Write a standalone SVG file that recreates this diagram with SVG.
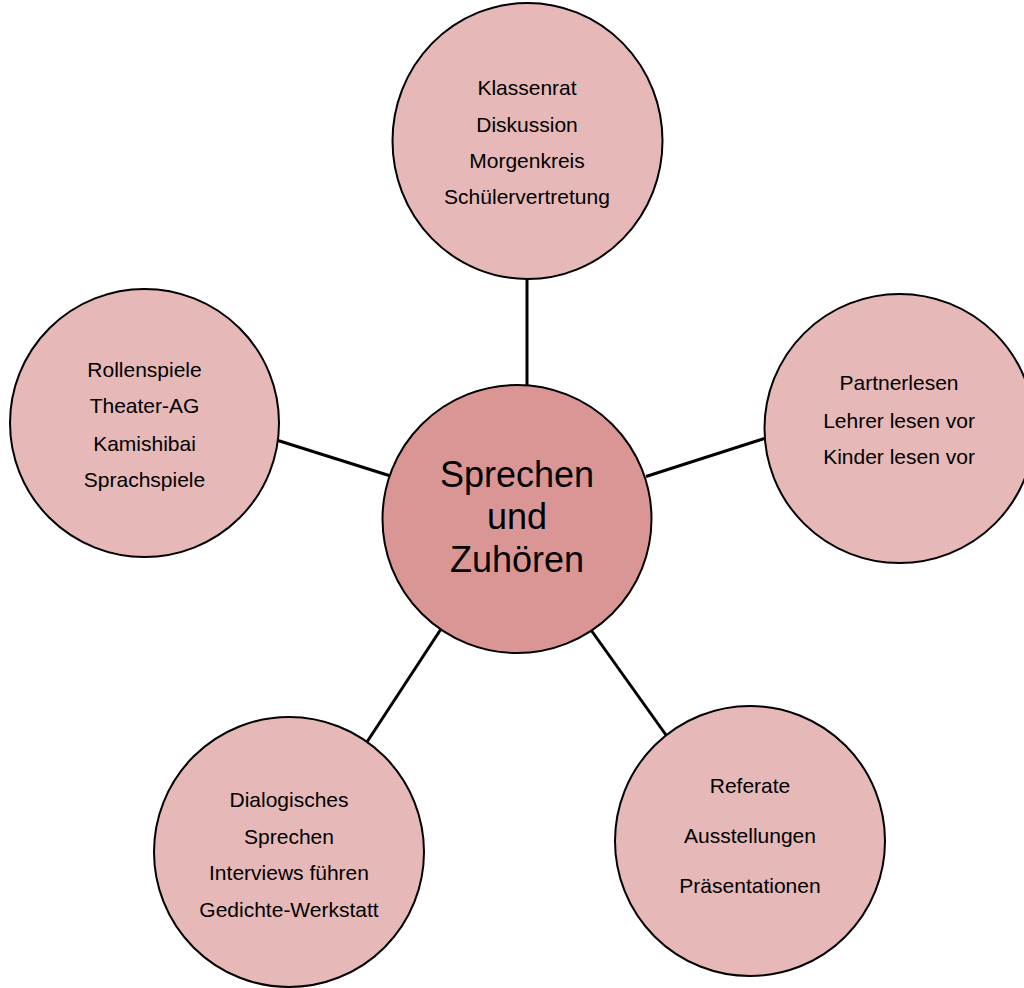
<svg xmlns="http://www.w3.org/2000/svg" width="1024" height="988" viewBox="0 0 1024 988">
<style>
.bub{fill:#E6B8B7;stroke:#000;stroke-width:2}
.hub{fill:#DA9694;stroke:#000;stroke-width:2}
.t{font-family:"Liberation Sans",Arial,sans-serif;font-size:21px;fill:#000;text-anchor:middle}
.h{font-family:"Liberation Sans",Arial,sans-serif;font-size:36px;fill:#000;text-anchor:middle}
.c{stroke:#000;stroke-width:3;fill:none}
</style>
<rect width="1024" height="988" fill="#fff"/>
<g id="connectors">
<line class="c" x1="527" y1="279" x2="527" y2="386"/>
<line class="c" x1="278" y1="440.5" x2="389" y2="475.5"/>
<line class="c" x1="646" y1="476.5" x2="766" y2="438"/>
<line class="c" x1="441" y1="629" x2="365" y2="745"/>
<line class="c" x1="591" y1="630" x2="666" y2="735"/>
</g>
<g id="top">
<ellipse class="bub" cx="527.5" cy="141" rx="135" ry="138"/>
<text class="t" x="527" y="95">Klassenrat</text>
<text class="t" x="527" y="132">Diskussion</text>
<text class="t" x="527" y="168">Morgenkreis</text>
<text class="t" x="527" y="204">Schülervertretung</text>
</g>
<g id="right">
<ellipse class="bub" cx="899.5" cy="428.5" rx="135" ry="134.5"/>
<text class="t" x="899" y="390">Partnerlesen</text>
<text class="t" x="899" y="428">Lehrer lesen vor</text>
<text class="t" x="899" y="464">Kinder lesen vor</text>
</g>
<g id="left">
<ellipse class="bub" cx="144.5" cy="423" rx="134.5" ry="134"/>
<text class="t" x="144.5" y="377">Rollenspiele</text>
<text class="t" x="144.5" y="413">Theater-AG</text>
<text class="t" x="144.5" y="451">Kamishibai</text>
<text class="t" x="144.5" y="487">Sprachspiele</text>
</g>
<g id="bottom-left">
<ellipse class="bub" cx="289" cy="852" rx="135" ry="135"/>
<text class="t" x="289" y="807">Dialogisches</text>
<text class="t" x="289" y="844">Sprechen</text>
<text class="t" x="289" y="880">Interviews führen</text>
<text class="t" x="289" y="917">Gedichte-Werkstatt</text>
</g>
<g id="bottom-right">
<ellipse class="bub" cx="750" cy="841" rx="135" ry="135"/>
<text class="t" x="750" y="793">Referate</text>
<text class="t" x="750" y="843">Ausstellungen</text>
<text class="t" x="750" y="893">Präsentationen</text>
</g>
<g id="center">
<ellipse class="hub" cx="517" cy="519" rx="134.5" ry="134"/>
<text class="h" x="517" y="487">Sprechen</text>
<text class="h" x="517" y="529">und</text>
<text class="h" x="517" y="572">Zuhören</text>
</g>
</svg>
